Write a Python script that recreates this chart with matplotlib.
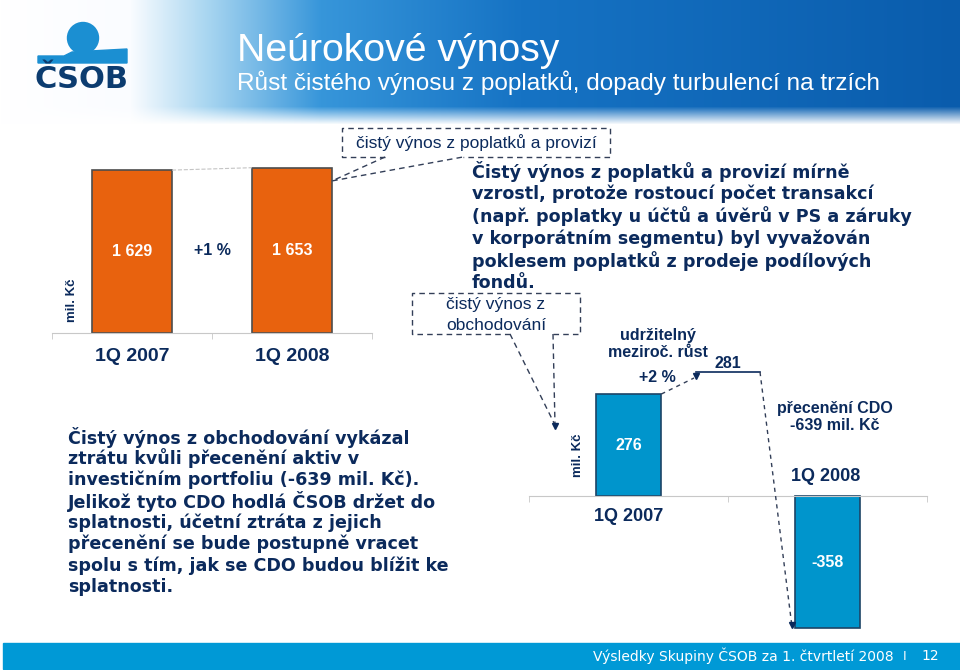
import numpy as np
import matplotlib.pyplot as plt
from matplotlib.patches import Rectangle, Circle, Polygon

# data
fee_periods = ['1Q 2007', '1Q 2008']
fee_values = [1629, 1653]
fee_labels = ['1 629', '1 653']
trade_periods = ['1Q 2007', '1Q 2008']
trade_values = [276, -358]
trade_labels = ['276', '-358']
trade_sustainable = 281
cdo_reval = -639

fee_text = ['Čistý výnos z poplatků a provizí mírně',
            'vzrostl, protože rostoucí počet transakcí',
            '(např. poplatky u účtů a úvěrů v PS a záruky',
            'v korporátním segmentu) byl vyvažován',
            'poklesem poplatků z prodeje podílových',
            'fondů.']
trade_text = ['Čistý výnos z obchodování vykázal',
              'ztrátu kvůli přecenění aktiv v',
              'investičním portfoliu (-639 mil. Kč).',
              'Jelikož tyto CDO hodlá ČSOB držet do',
              'splatnosti, účetní ztráta z jejich',
              'přecenění se bude postupně vracet',
              'spolu s tím, jak se CDO budou blížit ke',
              'splatnosti.']

NAVY = '#0b2a5c'
ORANGE = '#e8620e'
BLUE = '#0095cc'
DASH = '#333f58'
W, H = 960, 670

fig = plt.figure(figsize=(9.6, 6.7), dpi=100)

def box(x0, y0, x1, y1):
    return [x0 / W, 1 - y1 / H, (x1 - x0) / W, (y1 - y0) / H]

# background layer in pixel coordinates
bg = fig.add_axes([0, 0, 1, 1], zorder=0)
stops_x = [0, 130, 210, 320, 520, 960]
stops_c = np.array([[255, 255, 255], [250, 252, 255], [165, 212, 240],
                    [55, 150, 218], [22, 115, 196], [10, 92, 172]]) / 255
xs = np.arange(W)
grad = np.stack([np.interp(xs, stops_x, stops_c[:, k]) for k in range(3)], axis=-1)
hh = 124
img = np.tile(grad[None, :, :], (hh, 1, 1))
fade = np.clip((np.arange(hh) - 106) / 18, 0, 1)[:, None, None]
img = img * (1 - fade) + fade
bg.imshow(img, extent=(0, W, hh, 0), aspect='auto', zorder=0)
bg.set_xlim(0, W)
bg.set_ylim(H, 0)
bg.axis('off')

# logo
bg.add_patch(Circle((83, 38), 15.5, color='#1b8fd2', zorder=2))
bg.add_patch(Polygon([(38, 56), (64, 56), (72, 52), (127, 49), (127, 63), (38, 63)],
                     closed=True, color='#1b8fd2', zorder=2))
bg.text(82, 80, 'ČSOB', ha='center', va='center', fontsize=22, fontweight='heavy',
        family='DejaVu Sans', color='#0c3c70', zorder=3)

bg.text(237, 61, 'Neúrokové výnosy', ha='left', va='baseline', fontsize=28.3,
        family='Liberation Sans', color='white', zorder=3)
bg.text(237, 90, 'Růst čistého výnosu z poplatků, dopady turbulencí na trzích',
        ha='left', va='baseline', fontsize=17.6, family='Liberation Sans',
        color='white', zorder=3)

# footer
bg.add_patch(Rectangle((3, 643), W - 3, 26, color='#0099d6', zorder=1))
bg.text(593, 656, 'Výsledky Skupiny ČSOB za 1. čtvrtletí 2008', ha='left', va='center',
        fontsize=10, family='DejaVu Sans', color='white', zorder=3)
bg.text(905, 656, 'I', ha='center', va='center', fontsize=9, family='DejaVu Sans',
        color='white', zorder=3)
bg.text(930, 656, '12', ha='center', va='center', fontsize=10, family='DejaVu Sans',
        color='white', zorder=3)

# paragraphs
for i, line in enumerate(fee_text):
    bg.text(472, 172 + i * 22.2, line, ha='left', va='center', fontsize=12.6,
            fontweight='bold', family='DejaVu Sans', color=NAVY, zorder=3)
for i, line in enumerate(trade_text):
    bg.text(68, 437 + i * 21.4, line, ha='left', va='center', fontsize=12.6,
            fontweight='bold', family='DejaVu Sans', color=NAVY, zorder=3)

# top chart: fees and commissions
ax1 = fig.add_axes(box(52, 150, 372, 333), zorder=2)
ax1.patch.set_alpha(0)
x1 = np.arange(len(fee_periods))
bw1 = 0.5
ax1.bar(x1, fee_values, width=bw1, color=ORANGE, edgecolor='#4d4d4d', linewidth=1.2)
ax1.plot([x1[0] + bw1 / 2, x1[1] - bw1 / 2], fee_values, ls='--', lw=0.8, color='#c4c4c4')
ax1.set_xlim(-0.5, 1.5)
ax1.set_ylim(0, 1830)
for s in ['top', 'left', 'right']:
    ax1.spines[s].set_visible(False)
ax1.spines['bottom'].set_color('#c8c8c8')
ax1.set_yticks([])
ax1.set_xticks(x1, fee_periods)
ax1.set_xticks([-0.5, 0.5, 1.5], minor=True)
ax1.tick_params(axis='x', which='major', length=0, pad=11)
ax1.tick_params(axis='x', which='minor', length=4, color='#c8c8c8')
for lab in ax1.get_xticklabels():
    lab.set_fontsize(14)
    lab.set_fontweight('bold')
    lab.set_family('Liberation Sans')
    lab.set_color(NAVY)
for xi, v, t in zip(x1, fee_values, fee_labels):
    ax1.text(xi, v / 2, t, ha='center', va='center', fontsize=11.5, fontweight='bold',
             family='Liberation Sans', color='white')
growth1 = round((fee_values[1] / fee_values[0] - 1) * 100)
ax1.text(0.5, np.mean(fee_values) / 2, f'+{growth1} %', ha='center', va='center',
         fontsize=11.5, fontweight='bold', family='Liberation Sans', color=NAVY)
ax1.text(0.0625, 0.18, 'mil. Kč', transform=ax1.transAxes, rotation=90, ha='center',
         va='center', fontsize=9.5, fontweight='bold', family='Liberation Sans', color=NAVY)

# bottom chart: trading income
ax2 = fig.add_axes(box(529, 380, 927, 640), zorder=2)
ax2.patch.set_alpha(0)
x2 = np.arange(len(trade_periods))
bw2 = 0.33
ax2.bar(x2, trade_values, width=bw2, color=BLUE, edgecolor='#1d4466', linewidth=1.2)
ax2.set_xlim(-0.5, 1.5)
ax2.set_ylim(-390, 314)
for s in ['top', 'left', 'right']:
    ax2.spines[s].set_visible(False)
ax2.spines['bottom'].set_position(('data', 0))
ax2.spines['bottom'].set_color('#c8c8c8')
ax2.set_yticks([])
ax2.set_xticks([])
ax2.set_xticks([-0.5, 0.5, 1.5], minor=True)
ax2.tick_params(axis='x', which='minor', length=4, color='#c8c8c8')
for xi, v, t in zip(x2, trade_values, trade_labels):
    ax2.text(xi, v / 2, t, ha='center', va='center', fontsize=11.5, fontweight='bold',
             family='Liberation Sans', color='white')
ax2.annotate(trade_periods[0], xy=(x2[0], 0), xytext=(0, -15), textcoords='offset points',
             ha='center', va='center', fontsize=13, fontweight='bold',
             family='Liberation Sans', color=NAVY)
ax2.annotate(trade_periods[1], xy=(x2[1], 0), xytext=(-1, 14), textcoords='offset points',
             ha='center', va='center', fontsize=13, fontweight='bold',
             family='Liberation Sans', color=NAVY)
ax2.text(0.123, 0.71, 'mil. Kč', transform=ax2.transAxes, rotation=90, ha='center',
         va='center', fontsize=9.5, fontweight='bold', family='Liberation Sans', color=NAVY)

# overlay for callouts
ov = fig.add_axes([0, 0, 1, 1], zorder=3)
ov.patch.set_alpha(0)
ov.set_xlim(0, W)
ov.set_ylim(H, 0)
ov.axis('off')

def px(ax, x, y):
    d = ax.transData.transform((x, y))
    return d[0], H - d[1]

def dashed(pts, **kw):
    pts = np.array(pts)
    ov.plot(pts[:, 0], pts[:, 1], ls=(0, (4, 3)), lw=1.0, color=DASH, **kw)

# box: fees and commissions
tip1 = px(ax1, x1[1] + bw1 / 2, fee_values[1] * 0.92)
dashed([(385, 157), (342, 157), (342, 128), (610, 128), (610, 157), (463, 157)])
dashed([(385, 157), tip1, (463, 157)])
ov.text(476, 143, 'čistý výnos z poplatků a provizí', ha='center', va='center',
        fontsize=12.5, family='Liberation Sans', color=NAVY)

# box: trading
dashed([(510, 334), (412, 334), (412, 293), (580, 293), (580, 334), (553, 334)])
dashed([(510, 334), (555, 425)])
dashed([(553, 334), (555, 425)])
ov.plot(555, 426, marker='v', ms=4, color=NAVY)
ov.text(496, 304, 'čistý výnos z', ha='center', va='center', fontsize=12.5,
        family='Liberation Sans', color=NAVY)
ov.text(496, 325, 'obchodování', ha='center', va='center', fontsize=12.5,
        family='Liberation Sans', color=NAVY)

# sustainable growth bracket
growth2 = round((trade_sustainable / trade_values[0] - 1) * 100)
start = px(ax2, x2[0] + bw2 / 2, trade_values[0])
ov.plot([start[0], 694], [start[1], 378], ls=(0, (3, 3)), lw=1.0, color=DASH)
ov.plot(696, 376, marker='v', ms=5, color=NAVY)
ov.plot([696, 760], [372, 372], lw=1.2, color=NAVY)
end = px(ax2, x2[1] - bw2 / 2, trade_values[1])
ov.plot([760, end[0] - 3], [372, end[1] - 4], ls=(0, (3, 3)), lw=1.0, color=DASH)
ov.plot(end[0] - 3, end[1] - 3, marker='v', ms=5, color=NAVY)
ov.text(658, 344, 'udržitelný\nmeziroč. růst', ha='center', va='center', fontsize=11.5,
        fontweight='bold', family='Liberation Sans', color=NAVY, linespacing=1.1)
ov.text(657, 377, f'+{growth2} %', ha='center', va='center', fontsize=11.5,
        fontweight='bold', family='Liberation Sans', color=NAVY)
ov.text(728, 363, str(trade_sustainable), ha='center', va='center', fontsize=11.5,
        fontweight='bold', family='Liberation Sans', color=NAVY)
ov.text(835, 417, f'přecenění CDO\n{cdo_reval} mil. Kč', ha='center', va='center',
        fontsize=11.5, fontweight='bold', family='Liberation Sans', color=NAVY,
        linespacing=1.1)

fig.savefig('out.png', dpi=100)
